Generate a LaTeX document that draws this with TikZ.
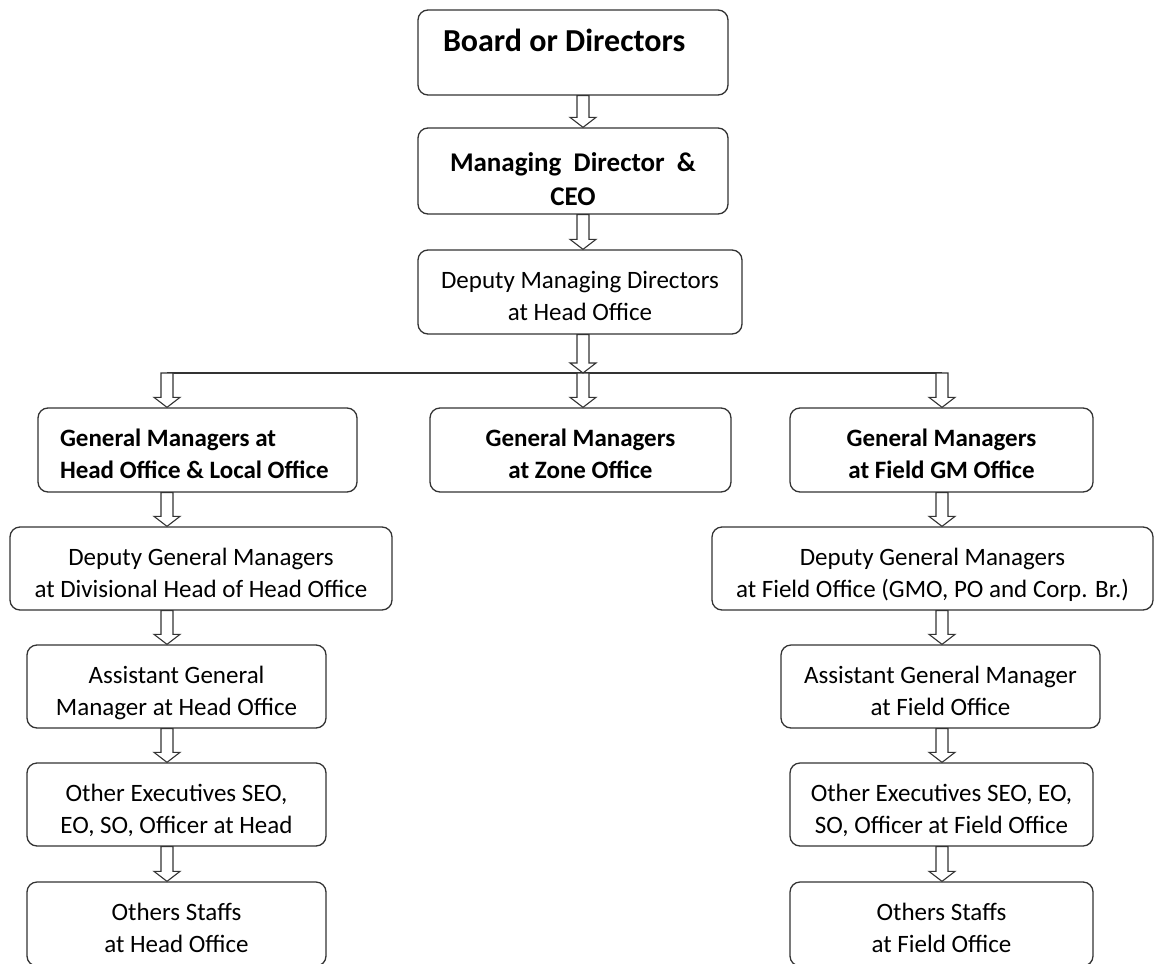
\documentclass[tikz,border=0pt]{standalone}
\usepackage{fontspec}
\setmainfont{Carlito}
\usetikzlibrary{calc,positioning}

\tikzset{
  post/.style={draw=black!80, line width=1.3pt, rounded corners=10pt, fill=white,
    align=flush center, inner sep=0pt, font=\fontsize{25}{32}\selectfont,
    execute at begin node={\rule{0pt}{31pt}}, execute at end node={\rule[-6pt]{0pt}{0pt}}},
  boldpost/.style={post, font=\fontsize{25}{32}\selectfont\bfseries},
  arr/.style={draw=black!80, line width=1.1pt, fill=white}
}
% hollow down arrow between two points
\newcommand\hollowarrow[2]{
  \draw [arr] ($(#1)+(-6,0)$) -- ($(#2)+(-6,-10)$) -- ($(#2)+(-13,-10)$) -- (#2)
    -- ($(#2)+(13,-10)$) -- ($(#2)+(6,-10)$) -- ($(#1)+(6,0)$) -- cycle;
}

\begin{document}
\begin{tikzpicture}[x=1pt,y=-1pt]
  \useasboundingbox (0,0) rectangle (1155,963);
  \clip (0,0) rectangle (1155,963);

  % top
  \node [boldpost, font=\fontsize{32}{36}\selectfont\bfseries, align=flush left, text width=260pt,
         text height=42pt, text depth=43pt, inner xsep=25pt] (board) at (573,52.5) {Board or Directors};
  \node [boldpost, font=\fontsize{27}{34}\selectfont\bfseries, text width=310pt, minimum height=86pt,
         execute at begin node={\rule{0pt}{41pt}}] (md) at (573,171) {Managing\ \ Director\ \ \&\\CEO};
  \node [post, text width=324pt, minimum height=84pt] (dmd) at (580,292) {Deputy Managing Directors\\at Head Office};

  % general managers
  \node [boldpost, align=flush left, text width=275pt, minimum height=84pt, inner xsep=22pt] (gmh) at (197.5,450) {General Managers at\\Head Office \& Local Office};
  \node [boldpost, text width=301pt, minimum height=84pt] (gmz) at (580.5,450) {General Managers\\at Zone Office};
  \node [boldpost, text width=303pt, minimum height=84pt] (gmf) at (941.5,450) {General Managers\\at Field GM Office};

  % head office column
  \node [post, text width=382pt, minimum height=83pt] (dgmh) at (201,568.5) {Deputy General Managers\\at Divisional Head of Head Office};
  \node [post, text width=299pt, minimum height=83pt] (agmh) at (176.5,686.5) {Assistant General\\Manager at Head Office};
  \node [post, text width=299pt, minimum height=83pt] (oeh) at (176.5,804.5) {Other Executives SEO,\\EO, SO, Officer at Head};
  \node [post, text width=299pt, minimum height=84pt] (osh) at (176.5,924) {Others Staffs\\at Head Office};

  % field office column
  \node [post, text width=441pt, minimum height=83pt] (dgmf) at (932.5,568.5) {Deputy General Managers\\at Field Office (GMO, PO and Corp. Br.)};
  \node [post, text width=319pt, minimum height=83pt] (agmf) at (940.5,686.5) {Assistant General Manager\\at Field Office};
  \node [post, text width=303pt, minimum height=83pt] (oef) at (941.5,804.5) {Other Executives SEO, EO,\\SO, Officer at Field Office};
  \node [post, text width=303pt, minimum height=84pt] (osf) at (941.5,924) {Others Staffs\\at Field Office};

  % arrow columns
  \coordinate (colL) at (167,0);
  \coordinate (colM) at (583,0);
  \coordinate (colR) at (942,0);
  \coordinate (branch) at (583,373);

  \hollowarrow{board.south -| colM}{md.north -| colM}
  \hollowarrow{md.south -| colM}{dmd.north -| colM}

  \draw [draw=black!80, line width=1.4pt] (branch -| colL) -- (branch -| colR);
  \hollowarrow{branch -| colL}{gmh.north -| colL}
  \hollowarrow{branch}{gmz.north -| colM}
  \hollowarrow{branch -| colR}{gmf.north -| colR}
  \hollowarrow{dmd.south -| colM}{branch}

  \hollowarrow{gmh.south -| colL}{dgmh.north -| colL}
  \hollowarrow{dgmh.south -| colL}{agmh.north -| colL}
  \hollowarrow{agmh.south -| colL}{oeh.north -| colL}
  \hollowarrow{oeh.south -| colL}{osh.north -| colL}

  \hollowarrow{gmf.south -| colR}{dgmf.north -| colR}
  \hollowarrow{dgmf.south -| colR}{agmf.north -| colR}
  \hollowarrow{agmf.south -| colR}{oef.north -| colR}
  \hollowarrow{oef.south -| colR}{osf.north -| colR}
\end{tikzpicture}
\end{document}
